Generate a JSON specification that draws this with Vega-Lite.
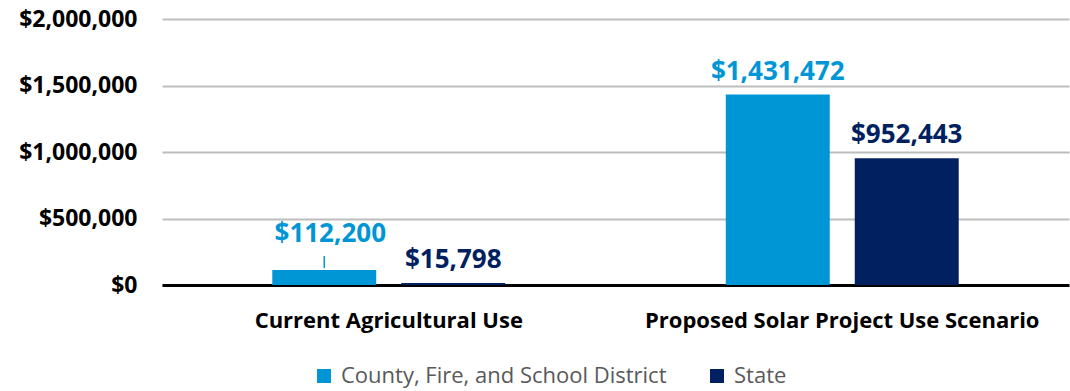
{
  "$schema": "https://vega.github.io/schema/vega-lite/v6.json",
  "width": 907,
  "height": 266,
  "autosize": {"type": "none"},
  "padding": {"left": 162, "top": 19, "right": 1, "bottom": 106},
  "background": "white",
  "config": {
    "view": {"stroke": null},
    "font": "Open Sans"
  },
  "data": {
    "values": [
      {"category": "Current Agricultural Use", "series": "County, Fire, and School District", "value": 112200, "leader": true},
      {"category": "Current Agricultural Use", "series": "State", "value": 15798, "leader": false},
      {"category": "Proposed Solar Project Use Scenario", "series": "County, Fire, and School District", "value": 1431472, "leader": false},
      {"category": "Proposed Solar Project Use Scenario", "series": "State", "value": 952443, "leader": false}
    ]
  },
  "encoding": {
    "x": {
      "field": "category",
      "type": "nominal",
      "sort": null,
      "scale": {"paddingInner": 0, "paddingOuter": 0},
      "axis": {
        "title": null,
        "labelAngle": 0,
        "labelFont": "Open Sans",
        "labelFontSize": 22,
        "labelFontWeight": "bold",
        "labelColor": "#000000",
        "labelPadding": 25,
        "labelLimit": 0,
        "ticks": false,
        "domainColor": "#000000",
        "domainWidth": 3,
        "grid": false
      }
    },
    "xOffset": {
      "field": "series",
      "type": "nominal",
      "sort": ["County, Fire, and School District", "State"],
      "scale": {"paddingInner": 0.194, "paddingOuter": 0.855}
    },
    "y": {
      "field": "value",
      "type": "quantitative",
      "scale": {"domain": [0, 2000000], "nice": false},
      "axis": {
        "title": null,
        "values": [0, 500000, 1000000, 1500000, 2000000],
        "format": "$,.0f",
        "labelFont": "Open Sans",
        "labelFontSize": 23,
        "labelFontWeight": "bold",
        "labelColor": "#000000",
        "labelPadding": 25,
        "labelLimit": 0,
        "ticks": false,
        "domain": false,
        "grid": true,
        "gridColor": "#BDBDBD",
        "gridWidth": 2
      }
    }
  },
  "layer": [
    {
      "mark": {"type": "bar"},
      "encoding": {
        "color": {
          "field": "series",
          "type": "nominal",
          "scale": {
            "domain": ["County, Fire, and School District", "State"],
            "range": ["#0096D6", "#002060"]
          },
          "legend": {
            "title": null,
            "orient": "none",
            "direction": "horizontal",
            "legendX": 151,
            "legendY": 346,
            "symbolType": "square",
            "symbolSize": 196,
            "symbolStrokeWidth": 0,
            "labelFont": "Open Sans",
            "labelFontSize": 22,
            "labelColor": "#595959",
            "labelOffset": 6,
            "labelLimit": 0,
            "columnPadding": 39
          }
        }
      }
    },
    {
      "transform": [{"filter": "!datum.leader"}],
      "mark": {"type": "text", "baseline": "alphabetic", "dy": -15, "fontSize": 26, "fontWeight": "bold", "font": "Open Sans"},
      "encoding": {
        "text": {"field": "value", "type": "quantitative", "format": "$,.0f"},
        "color": {
          "field": "series",
          "type": "nominal",
          "scale": {
            "domain": ["County, Fire, and School District", "State"],
            "range": ["#0096D6", "#002060"]
          },
          "legend": null
        }
      }
    },
    {
      "transform": [{"filter": "datum.leader"}],
      "mark": {"type": "text", "baseline": "alphabetic", "dy": -28, "dx": 6, "fontSize": 26, "fontWeight": "bold", "font": "Open Sans"},
      "encoding": {
        "text": {"field": "value", "type": "quantitative", "format": "$,.0f"},
        "color": {
          "field": "series",
          "type": "nominal",
          "scale": {
            "domain": ["County, Fire, and School District", "State"],
            "range": ["#0096D6", "#002060"]
          },
          "legend": null
        }
      }
    },
    {
      "transform": [{"filter": "datum.leader"}],
      "mark": {"type": "rule", "color": "#0096D6", "strokeWidth": 1.5, "yOffset": -2, "y2Offset": -14, "xOffset": 1},
      "encoding": {
        "y2": {"field": "value"}
      }
    }
  ]
}
